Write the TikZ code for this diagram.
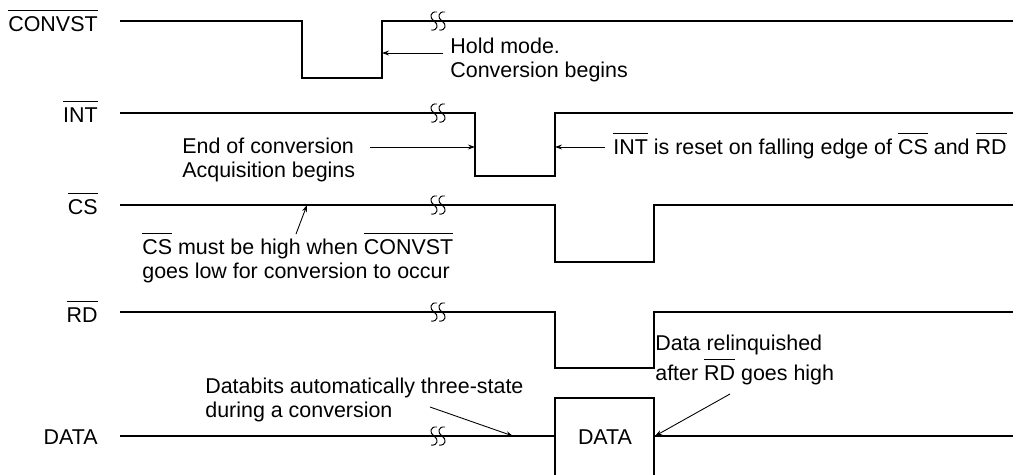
\documentclass[tikz,border=0pt]{standalone}
\usepackage{fontspec}
\setmainfont{Liberation Sans}
\usetikzlibrary{arrows.meta}

\newcommand{\sigfont}{\fontsize{12.2}{13.9}\selectfont}
\newsavebox{\ovlbox}
\newcommand{\ovl}[1]{\sbox{\ovlbox}{#1}%
  \rlap{\raisebox{\dimexpr\ht\ovlbox+3pt\relax}[0pt][0pt]{\rule{\wd\ovlbox}{0.55pt}}}%
  \usebox{\ovlbox}}

\tikzset{
  sig/.style={anchor=base east, inner sep=0pt, font=\sigfont},
  note/.style={anchor=west, align=left, inner sep=0pt, font=\sigfont},
  wave/.style={line width=0.7pt},
  arr/.style={-{Stealth[length=4pt, width=2.8pt]}, line width=0.5pt},
  brk/.pic={
    \foreach \dx in {-4,4}
      \draw[line width=0.55pt] (\dx+3,-9) .. controls (\dx-4,-10) and (\dx-5,-3) .. (\dx,0)
        .. controls (\dx+5,3) and (\dx+4,10) .. (\dx-3,9);
  },
}

\begin{document}
\begin{tikzpicture}[x=0.02cm, y=-0.02cm]
  \useasboundingbox (0,0) rectangle (1023,474);

  % signal names
  \node[sig] (nconv) at (98,31) {\ovl{CONVST}};
  \node[sig] (nint) at (98,122) {\ovl{INT}};
  \node[sig] (ncs) at (98,214) {\ovl{CS}};
  \node[sig] (nrd) at (98,322) {\ovl{RD}};
  \node[sig] (ndata) at (98,444) {DATA};

  % waveforms
  \draw[wave] (120,21) -| (302,78) -| (382,21) -- (1013,21);
  \draw[wave] (120,113) -| (475,176) -| (555,113) -- (1013,113);
  \draw[wave] (120,205) -| (555,262) -| (654,205) -- (1013,205);
  \draw[wave] (120,312) -| (555,368) -| (654,312) -- (1013,312);
  \draw[wave] (120,436) -- (555,436);
  \draw[wave] (654,436) -- (1013,436);
  \draw[wave] (555,476) |- (654,398) -- (654,476);
  \node[font=\sigfont] (dbox) at (605,437) {DATA};

  % breaks
  \pic at (438,21) {brk};
  \pic at (438,113) {brk};
  \pic at (438,205) {brk};
  \pic at (438,312) {brk};
  \pic at (438,436) {brk};

  % edge points
  \coordinate (convrise) at (382,53);
  \coordinate (intfall) at (475,147);
  \coordinate (intrise) at (555,147);
  \coordinate (cshi) at (307,205);
  \coordinate (datain) at (513,436);
  \coordinate (dataout) at (655,436);

  % notes
  \node[note] (hold) at (450,60) {Hold mode.\\Conversion begins};
  \node[note] (endc) at (182,160) {End of conversion\\Acquisition begins};
  \node[note, anchor=base west] (reset) at (613,154) {\ovl{INT} is reset on falling edge of \ovl{CS} and \ovl{RD}};
  \node[note] (cshigh) at (142,261) {\ovl{CS} must be high when \ovl{CONVST}\\goes low for conversion to occur};
  \node[note] (dbits) at (205,400) {Databits automatically three-state\\during a conversion};
  \node[note] (relq) at (655,360) {Data relinquished\\[3pt]after \ovl{RD} goes high};

  % tails
  \coordinate (holdtail) at (443,53);
  \coordinate (endtail) at (370,147);
  \coordinate (resettail) at (605,147);
  \coordinate (cstail) at (296,234);
  \coordinate (dbitstail) at (430,407);
  \coordinate (relqtail) at (730,394);

  \draw[arr] (holdtail) -- (convrise);
  \draw[arr] (endtail) -- (intfall);
  \draw[arr] (resettail) -- (intrise);
  \draw[arr] (cstail) -- (cshi);
  \draw[arr] (dbitstail) -- (datain);
  \draw[arr] (relqtail) -- (dataout);
\end{tikzpicture}
\end{document}
